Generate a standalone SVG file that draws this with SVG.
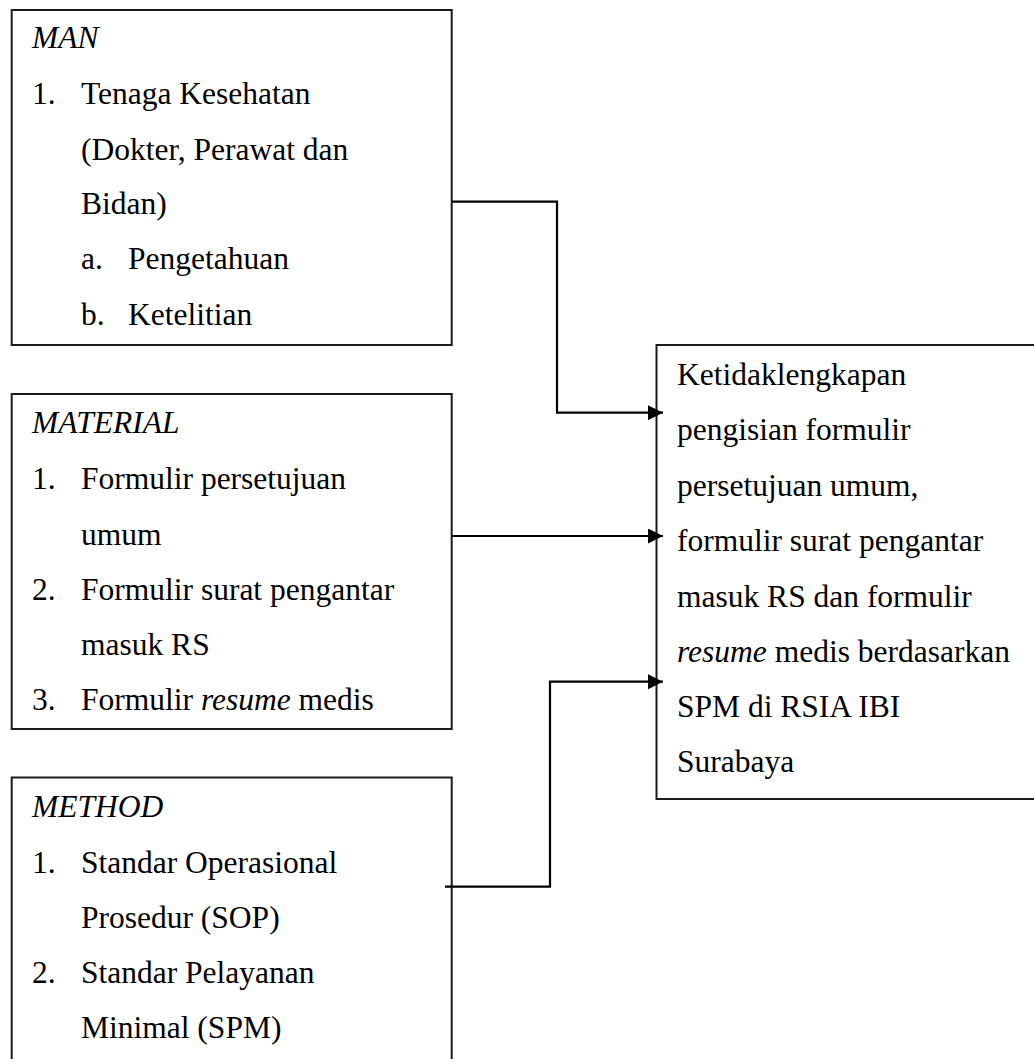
<svg xmlns="http://www.w3.org/2000/svg" width="1034" height="1059" viewBox="0 0 1034 1059">
<style>
.box{fill:none;stroke:#1a1a1a;stroke-width:2}
text{font-family:"Liberation Serif","Times New Roman",serif;font-size:31.5px;fill:#000}
.it{font-style:italic}
.conn{fill:none;stroke:#000;stroke-width:2.2}
</style>
<defs>
<marker id="arr" markerUnits="userSpaceOnUse" markerWidth="16" markerHeight="16" refX="15" refY="7.5" orient="auto">
<path d="M0,0 L15,7.5 L0,15 Z" fill="#000"/>
</marker>
</defs>
<rect width="1034" height="1059" fill="#fff"/>
<g id="man">
<rect class="box" x="11.7" y="10" width="440" height="335"/>
<text x="32" y="48" class="it">MAN</text>
<text x="32" y="104">1.</text><text x="81" y="104">Tenaga Kesehatan</text>
<text x="81" y="159.5">(Dokter, Perawat dan</text>
<text x="81" y="214">Bidan)</text>
<text x="81" y="269">a.</text><text x="128" y="269">Pengetahuan</text>
<text x="81" y="324.5">b.</text><text x="128" y="324.5">Ketelitian</text>
</g>
<g id="material">
<rect class="box" x="11.7" y="394" width="440" height="335"/>
<text x="32" y="433.3" class="it">MATERIAL</text>
<text x="32" y="489.3">1.</text><text x="81" y="489.3">Formulir persetujuan</text>
<text x="81" y="545">umum</text>
<text x="32" y="600">2.</text><text x="81" y="600">Formulir surat pengantar</text>
<text x="81" y="655">masuk RS</text>
<text x="32" y="710">3.</text><text x="81" y="710">Formulir <tspan class="it">resume</tspan> medis</text>
</g>
<g id="method">
<rect class="box" x="11.7" y="777.5" width="440" height="300"/>
<text x="32" y="816.7" class="it">METHOD</text>
<text x="32" y="873.3">1.</text><text x="81" y="873.3">Standar Operasional</text>
<text x="81" y="928.3">Prosedur (SOP)</text>
<text x="32" y="983.3">2.</text><text x="81" y="983.3">Standar Pelayanan</text>
<text x="81" y="1038.3">Minimal (SPM)</text>
</g>
<g id="result">
<rect class="box" x="656.5" y="345" width="400" height="454"/>
<text x="677" y="385">Ketidaklengkapan</text>
<text x="677" y="440">pengisian formulir</text>
<text x="677" y="495.7">persetujuan umum,</text>
<text x="677" y="551">formulir surat pengantar</text>
<text x="677" y="606.7">masuk RS dan formulir</text>
<text x="677" y="661.7"><tspan class="it">resume</tspan> medis berdasarkan</text>
<text x="677" y="716.7">SPM di RSIA IBI</text>
<text x="677" y="771.7">Surabaya</text>
</g>
<g id="connectors">
<path class="conn" d="M452,201.7 H557 V412.7 H663" marker-end="url(#arr)"/>
<path class="conn" d="M452,536 H663" marker-end="url(#arr)"/>
<path class="conn" d="M445,886.7 H550 V681.7 H663" marker-end="url(#arr)"/>
</g>
</svg>
